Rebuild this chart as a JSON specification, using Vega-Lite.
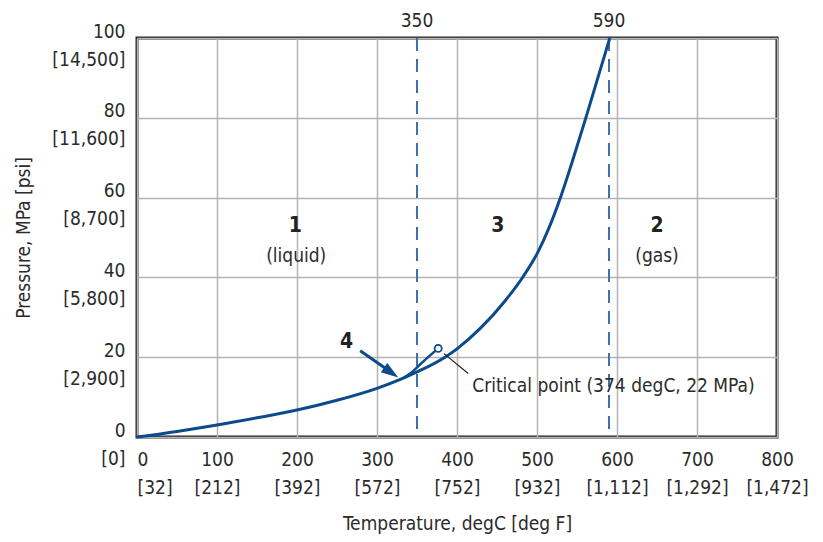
{
  "$schema": "https://vega.github.io/schema/vega-lite/v6.json",
  "width": 640,
  "height": 399,
  "autosize": "none",
  "padding": {"left": 137, "top": 38, "right": 46, "bottom": 105},
  "background": "white",
  "config": {
    "font": "DejaVu Sans Condensed, Roboto, sans-serif",
    "view": {"stroke": "#222222", "strokeWidth": 3},
    "axis": {
      "labelFont": "DejaVu Sans Condensed, Roboto, sans-serif",
      "titleFont": "DejaVu Sans Condensed, Roboto, sans-serif",
      "labelFontSize": 19,
      "titleFontSize": 19,
      "labelColor": "#2b2b2b",
      "titleColor": "#2b2b2b",
      "titleFontWeight": "normal",
      "gridColor": "#b3b3b3",
      "gridWidth": 1.5,
      "gridOpacity": 1,
      "ticks": false,
      "domain": false,
      "labelOverlap": false,
      "labelFlush": false,
      "labelLineHeight": 28
    }
  },
  "datasets": {
    "curve": [
      {"T": 0, "P": 0}, {"T": 50, "P": 1.4}, {"T": 100, "P": 3}, {"T": 150, "P": 4.8},
      {"T": 200, "P": 6.75}, {"T": 250, "P": 9.2}, {"T": 300, "P": 12.2}, {"T": 330, "P": 14.5},
      {"T": 350, "P": 16.3}, {"T": 385, "P": 20}, {"T": 400, "P": 22.1}, {"T": 430, "P": 27.4},
      {"T": 460, "P": 34.1}, {"T": 483, "P": 40.3}, {"T": 500, "P": 45.9}, {"T": 515, "P": 52.4},
      {"T": 530, "P": 60.4}, {"T": 545, "P": 69.6}, {"T": 560, "P": 79.3}, {"T": 575, "P": 89.3},
      {"T": 591, "P": 100}
    ],
    "branch": [
      {"T": 333, "P": 14.8}, {"T": 345, "P": 16.5}, {"T": 355, "P": 18.4}, {"T": 365, "P": 20.2}, {"T": 376.5, "P": 22.2}
    ],
    "critical": [{"T": 376.5, "P": 22.2}],
    "dashed": [{"T": 350}, {"T": 590}],
    "toplabels": [{"T": 350, "P": 100, "label": "350"}, {"T": 590, "P": 100, "label": "590"}],
    "leader": [{"T": 383.75, "P": 20.9, "T2": 414, "P2": 15.9}],
    "crittext": [{"T": 419, "P": 12.75, "label": "Critical point (374 degC, 22 MPa)"}],
    "arrowline": [{"T": 279, "P": 21.6, "T2": 318, "P2": 16.15}],
    "arrowhead": [{"T": 317.7, "P": 16.15}],
    "bold": [
      {"T": 198, "P": 53, "label": "1"},
      {"T": 451, "P": 53, "label": "3"},
      {"T": 650, "P": 53, "label": "2"},
      {"T": 262, "P": 23.8, "label": "4"}
    ],
    "plain": [
      {"T": 199, "P": 45.25, "label": "(liquid)"},
      {"T": 650, "P": 45.25, "label": "(gas)"}
    ]
  },
  "layer": [
    {
      "data": {"name": "dashed"},
      "mark": {"type": "rule", "color": "#3f72a8", "strokeWidth": 2, "strokeDash": [13, 8]},
      "encoding": {
        "x": {
          "field": "T", "type": "quantitative",
          "scale": {"domain": [0, 800], "nice": false},
          "axis": {
            "values": [0, 100, 200, 300, 400, 500, 600, 700, 800],
            "labelExpr": "[format(datum.value, 'd'), '[' + format(datum.value * 1.8 + 32, ',') + ']']",
            "labelAlign": {"condition": {"test": "datum.value == 0", "value": "left"}, "value": "center"},
            "labelPadding": 13,
            "labelBaseline": "top",
            "title": "Temperature, degC [deg F]",
            "titlePadding": 17
          }
        }
      }
    },
    {
      "data": {"name": "curve"},
      "mark": {"type": "line", "color": "#0b4a8b", "strokeWidth": 3, "interpolate": "monotone"},
      "encoding": {
        "x": {"field": "T", "type": "quantitative"},
        "y": {
          "field": "P", "type": "quantitative",
          "scale": {"domain": [0, 100], "nice": false},
          "axis": {
            "values": [0, 20, 40, 60, 80, 100],
            "labelExpr": "[format(datum.value, 'd'), '[' + format(datum.value * 145, ',') + ']']",
            "labelPadding": 12,
            "labelBaseline": "middle",
            "labelOffset": -7,
            "title": "Pressure, MPa [psi]",
            "titlePadding": 18
          }
        }
      }
    },
    {
      "data": {"name": "branch"},
      "mark": {"type": "line", "color": "#0b4a8b", "strokeWidth": 2.5, "interpolate": "monotone"},
      "encoding": {
        "x": {"field": "T", "type": "quantitative"},
        "y": {"field": "P", "type": "quantitative"}
      }
    },
    {
      "data": {"name": "leader"},
      "mark": {"type": "rule", "color": "#222222", "strokeWidth": 1.2},
      "encoding": {
        "x": {"field": "T", "type": "quantitative"},
        "y": {"field": "P", "type": "quantitative"},
        "x2": {"field": "T2"},
        "y2": {"field": "P2"}
      }
    },
    {
      "data": {"name": "critical"},
      "mark": {"type": "point", "shape": "circle", "filled": false, "fill": "white", "fillOpacity": 1, "stroke": "#0b4a8b", "strokeWidth": 1.8, "size": 50, "opacity": 1},
      "encoding": {
        "x": {"field": "T", "type": "quantitative"},
        "y": {"field": "P", "type": "quantitative"}
      }
    },
    {
      "data": {"name": "arrowline"},
      "mark": {"type": "rule", "color": "#0b4a8b", "strokeWidth": 3},
      "encoding": {
        "x": {"field": "T", "type": "quantitative"},
        "y": {"field": "P", "type": "quantitative"},
        "x2": {"field": "T2"},
        "y2": {"field": "P2"}
      }
    },
    {
      "data": {"name": "arrowhead"},
      "mark": {"type": "point", "shape": "M0,-1L0.65,1L-0.65,1Z", "filled": true, "color": "#0b4a8b", "size": 300, "angle": 125, "opacity": 1},
      "encoding": {
        "x": {"field": "T", "type": "quantitative"},
        "y": {"field": "P", "type": "quantitative"}
      }
    },
    {
      "data": {"name": "toplabels"},
      "mark": {"type": "text", "fontSize": 19, "color": "#2b2b2b", "baseline": "middle", "dy": -17},
      "encoding": {
        "x": {"field": "T", "type": "quantitative"},
        "y": {"field": "P", "type": "quantitative"},
        "text": {"field": "label"}
      }
    },
    {
      "data": {"name": "crittext"},
      "mark": {"type": "text", "fontSize": 19, "color": "#2b2b2b", "baseline": "middle", "align": "left"},
      "encoding": {
        "x": {"field": "T", "type": "quantitative"},
        "y": {"field": "P", "type": "quantitative"},
        "text": {"field": "label"}
      }
    },
    {
      "data": {"name": "bold"},
      "mark": {"type": "text", "fontSize": 21, "fontWeight": "bold", "color": "#222222", "baseline": "middle"},
      "encoding": {
        "x": {"field": "T", "type": "quantitative"},
        "y": {"field": "P", "type": "quantitative"},
        "text": {"field": "label"}
      }
    },
    {
      "data": {"name": "plain"},
      "mark": {"type": "text", "fontSize": 19, "color": "#2b2b2b", "baseline": "middle"},
      "encoding": {
        "x": {"field": "T", "type": "quantitative"},
        "y": {"field": "P", "type": "quantitative"},
        "text": {"field": "label"}
      }
    }
  ]
}
